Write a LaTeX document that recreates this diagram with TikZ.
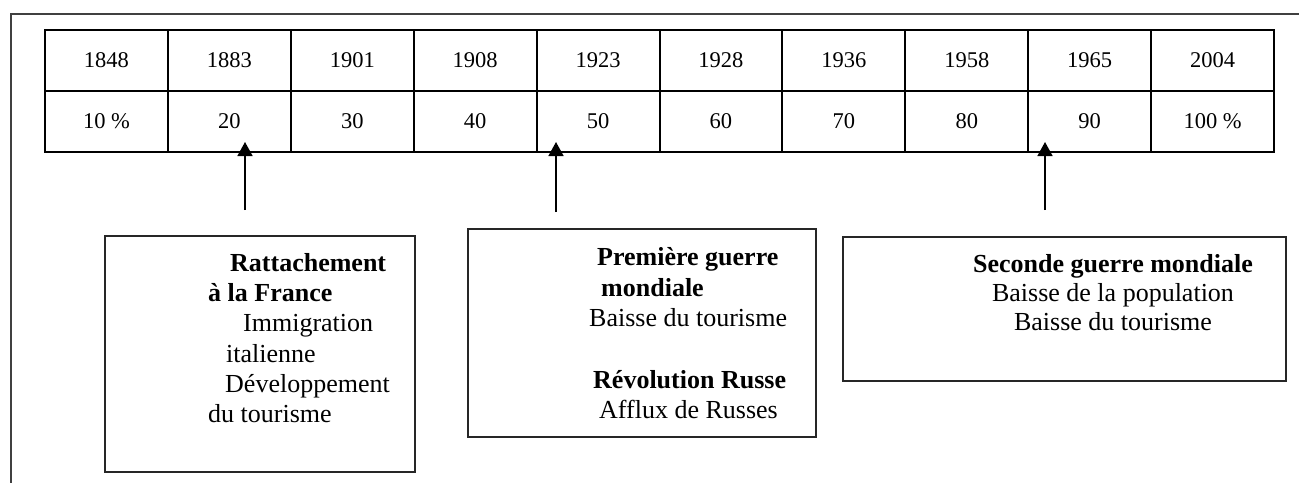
\documentclass[tikz,border=0pt]{standalone}
\usepackage{fontspec}
\setmainfont{Liberation Serif}
\usetikzlibrary{arrows.meta}
\begin{document}
\begin{tikzpicture}[x=1pt,y=-1pt,
  cell/.style={draw=black, line width=2pt, minimum width=122.9pt, minimum height=61pt, inner sep=0pt, font=\fontsize{22.5}{27}\selectfont, anchor=center},
  txt/.style={inner sep=0pt, anchor=base west, font=\fontsize{26}{30}\selectfont},
  btxt/.style={txt, font=\fontsize{26}{30}\selectfont\bfseries},
  ctxt/.style={inner sep=0pt, anchor=base, font=\fontsize{26}{30}\selectfont},
  cbtxt/.style={ctxt, font=\fontsize{26}{30}\selectfont\bfseries},
  evbox/.style={draw=black!85, line width=1.8pt, inner sep=0pt},
  frameline/.style={draw=black!75, line width=1.8pt},
  pointer/.style={draw=black, line width=1.5pt, -{Triangle[length=14pt,width=15pt]}}]
\useasboundingbox (0,0) rectangle (1299,483);
% outer open frame
\coordinate (fr1) at (1299,14);
\coordinate (fr2) at (11,14);
\coordinate (fr3) at (11,483);
\draw[frameline] (fr1) -- (fr2) -- (fr3);
% table
\foreach \yr [count=\i] in {1848,1883,1901,1908,1923,1928,1936,1958,1965,2004}
  \node[cell] (y\i) at ({45+122.9*(\i-0.5)},60.5) {\yr};
\foreach \v [count=\i] in {10 \%,20,30,40,50,60,70,80,90,100 \%}
  \node[cell] (v\i) at ({45+122.9*(\i-0.5)},121.5) {\v};
% boxes
\node[evbox, minimum width=310pt, minimum height=236pt] (b1) at (260,354) {};
\node[evbox, minimum width=348pt, minimum height=208pt] (b2) at (642,333) {};
\node[evbox, minimum width=443pt, minimum height=144pt] (b3) at (1064.5,309) {};
% arrows
\coordinate (a1tail) at (245,210);
\coordinate (a1tip) at (245,142);
\coordinate (a2tail) at (556,212);
\coordinate (a2tip) at (556,142);
\coordinate (a3tail) at (1045,210);
\coordinate (a3tip) at (1045,142);
\draw[pointer] (a1tail) -- (a1tip);
\draw[pointer] (a2tail) -- (a2tip);
\draw[pointer] (a3tail) -- (a3tip);
% box 1 text
\node[btxt] (t1a) at (230,271) {Rattachement};
\node[btxt] (t1b) at (208,301) {à la France};
\node[txt] (t1c) at (243,331) {Immigration};
\node[txt] (t1d) at (226,362.5) {italienne};
\node[txt] (t1e) at (225,392.5) {Développement};
\node[txt] (t1f) at (208,422.5) {du tourisme};
% box 2 text
\node[btxt] (t2a) at (597,265) {Première guerre};
\node[btxt] (t2b) at (601,296.5) {mondiale};
\node[txt] (t2c) at (589,326) {Baisse du tourisme};
\node[btxt] (t2d) at (593,388) {Révolution Russe};
\node[txt] (t2e) at (599,418) {Afflux de Russes};
% box 3 text
\node[cbtxt] (t3a) at (1113,272.5) {Seconde guerre mondiale};
\node[ctxt] (t3b) at (1113,301.5) {Baisse de la population};
\node[ctxt] (t3c) at (1113,330) {Baisse du tourisme};
\end{tikzpicture}
\end{document}
